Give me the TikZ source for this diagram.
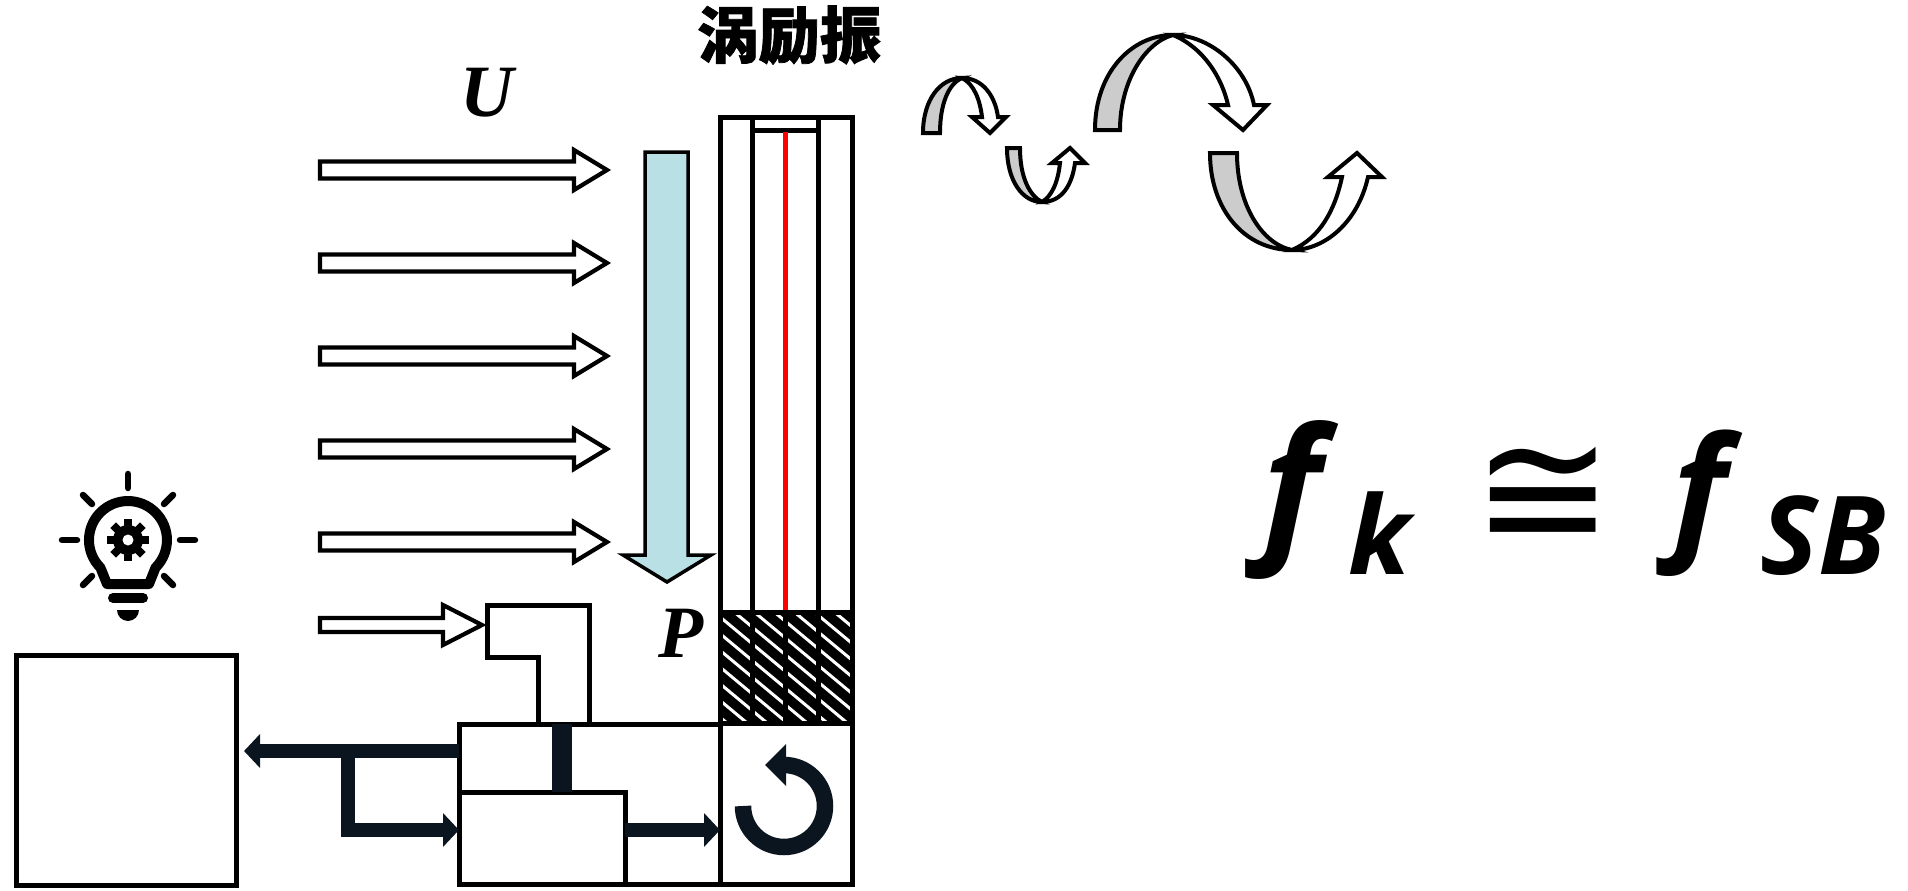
\documentclass[tikz,border=0pt]{standalone}
\usepackage{fontspec}
\newfontfamily\cjkfont{Noto Sans CJK SC}[BoldFeatures={FakeBold=1.2}]
\newfontfamily\varfont{Liberation Serif}
\newfontfamily\eqfont{Open Sans}
\newfontfamily\opfont{DejaVu Sans}
\usetikzlibrary{arrows.meta}
\definecolor{ribbon}{RGB}{204,204,204}
\definecolor{jet}{RGB}{185,224,228}
\definecolor{navy}{RGB}{11,21,31}

\begin{document}
\begin{tikzpicture}[
    x=0.1mm, y=-0.1mm,
    frame/.style={draw, line width=0.5mm},
    box/.style={draw, line width=0.5mm, inner sep=0pt, outer sep=0pt},
    hollow/.style={draw, fill=white, line width=0.42mm, line join=miter},
    back/.style={draw, fill=ribbon, line width=0.4mm},
    front/.style={draw, fill=white, line width=0.4mm, line join=miter},
    flow/.style={navy, line width=1.45mm, -{Triangle[length=1.6mm, width=3.3mm]}},
    var/.style={font=\varfont\bfseries\itshape\fontsize{21}{21}\selectfont, inner sep=0pt, anchor=base},
    eqbig/.style={font=\eqfont\bfseries\itshape\fontsize{45}{45}\selectfont, inner sep=0pt, anchor=base west},
    eqsub/.style={font=\eqfont\bfseries\itshape\fontsize{31}{31}\selectfont, inner sep=0pt, anchor=base west}
]
    \useasboundingbox (0,0) rectangle (1908,891);

    % title
    \node[font=\cjkfont\bfseries\fontsize{17.5}{18}\selectfont, inner sep=0pt, anchor=base] (title) at (789,58) {涡励振};

    % wind
    \node[var] (U) at (487,116) {U};
    \foreach \yy in {170,263,356,449,542}
        \draw[hollow] (320,\yy-8.5) -- (574,\yy-8.5) -- (574,\yy-20) -- (607,\yy)
            -- (574,\yy+20) -- (574,\yy+8.5) -- (320,\yy+8.5) -- cycle;
    \draw[hollow] (320,618) -- (443,618) -- (443,605) -- (482,625) -- (443,645) -- (443,632) -- (320,632) -- cycle;

    % downward load
    \draw[fill=jet, line width=0.35mm, line join=miter] (645,152) -- (688,152) -- (688,555) -- (711,555)
        -- (667,582) -- (623,555) -- (645,555) -- cycle;
    \node[var] (P) at (681,657) {P};

    % tower
    \draw[frame] (720,117) rectangle (852,884);
    \draw[frame] (752,117) -- (752,612);
    \draw[frame] (818,117) -- (818,612);
    \draw[frame] (752,130) -- (818,130);
    \draw[red, line width=0.5mm] (785.5,132) -- (785.5,612);

    % damper cells
    \begin{scope}
        \clip (720,612) rectangle (852,723);
        \fill (720,612) rectangle (852,723);
        \foreach \s in {0,...,17}
            \draw[white, line width=0.3mm] (720,{500+16.7*\s}) -- ++(132,110);
    \end{scope}
    \draw[frame] (720,612) rectangle (852,723);
    \foreach \xx in {752,785,818}
        \draw[frame] (\xx,612) -- (\xx,723);

    % boxes
    \node[box, minimum width=22mm, minimum height=23mm] (host) at (126,770.5) {};
    \node[box, minimum width=26.1mm, minimum height=16mm] (drive) at (589.5,804) {};
    \node[box, minimum width=16.6mm, minimum height=9.2mm] (amp) at (542,838) {};
    \node[box, minimum width=13.2mm, minimum height=16.1mm] (base) at (786,803.5) {};

    % sensor head
    \draw[frame, line join=miter] (538,724) -- (538,657) -- (487,657) -- (487,605) -- (589,605) -- (589,724);
    \coordinate (stem) at (562,724);
    \draw[navy, line width=2mm] (stem) -- (stem |- amp.north);

    % signal lines
    \coordinate (tap) at (348,751);
    \draw[flow, shorten >=0.8mm] (drive.west |- tap) -- (host.east |- tap);
    \draw[flow, line join=miter] (tap) |- (amp.west |- 0,830);
    \draw[flow] (amp.east |- 0,830) -- (base.west |- 0,830);

    % turntable
    \draw[navy, line width=1.65mm] (743,806) arc[start angle=180, end angle=-90, radius=41];
    \fill[navy] (786,744) -- (786,786) -- (765,765) -- cycle;

    % lamp
    \begin{scope}[line width=0.65mm, line cap=round]
        \draw (128,474) -- (128,488);
        \draw (62,540) -- (77,540);
        \draw (180,540) -- (195,540);
        \draw (83,495) -- (92,504);
        \draw (173,495) -- (164,504);
        \draw (83,585) -- (92,576);
        \draw (173,585) -- (164,576);
    \end{scope}
    \draw[line width=1mm, line join=round] (100.4,567.6) arc[start angle=135, end angle=405, radius=39]
        -- (149,584) -- (107,584) -- cycle;
    \draw[line width=1mm, line cap=round] (113,598) -- (143,598);
    \fill (117,610) -- (139,610) arc[start angle=0, end angle=180, radius=11] -- cycle;
    \fill (128,540) circle[radius=15];
    \foreach \a in {0,45,...,315}
        \fill[rotate around={\a:(128,540)}] (124,519) rectangle (132,528);
    \fill[white] (128,540) circle[radius=5.5];

    % vortex shedding
    \filldraw[back] (923,133) .. controls (923,100) and (940,78) .. (962,78)
        .. controls (948,84) and (940,105) .. (940,133) -- cycle;
    \filldraw[front] (962,78) .. controls (982,78) and (995,95) .. (998,117) -- (1006,117) -- (990,133)
        -- (972,117) -- (982,117) .. controls (980,100) and (974,84) .. (962,78) -- cycle;

    \filldraw[back] (1007,148) .. controls (1007,180) and (1022,202) .. (1042,202)
        .. controls (1030,196) and (1020,178) .. (1020,148) -- cycle;
    \filldraw[front] (1042,202) .. controls (1062,202) and (1072,185) .. (1075,163) -- (1085,163) -- (1070,148)
        -- (1052,163) -- (1060,163) .. controls (1058,182) and (1052,196) .. (1042,202) -- cycle;

    \filldraw[back] (1095,130) .. controls (1095,72) and (1132,35) .. (1173,35)
        .. controls (1146,42) and (1120,80) .. (1120,130) -- cycle;
    \filldraw[front] (1173,35) .. controls (1208,35) and (1246,65) .. (1254,105) -- (1267,105) -- (1243,130)
        -- (1213,105) -- (1228,105) .. controls (1222,78) and (1204,48) .. (1173,35) -- cycle;

    \filldraw[back] (1210,153) .. controls (1210,210) and (1245,250) .. (1292,250)
        .. controls (1262,244) and (1237,205) .. (1237,153) -- cycle;
    \filldraw[front] (1292,250) .. controls (1325,250) and (1358,222) .. (1368,177) -- (1382,177) -- (1357,153)
        -- (1328,177) -- (1342,177) .. controls (1335,210) and (1320,238) .. (1292,250) -- cycle;

    % frequency lock-in
    \node[eqbig] (fk) at (1262,541) {f};
    \node[eqsub] (k) at (1348,574) {k};
    \node[font=\opfont\fontsize{48}{48}\selectfont, inner sep=0pt] (cong) at (1543,497) {≅};
    \node[eqbig, font=\eqfont\bfseries\itshape\fontsize{41.5}{41.5}\selectfont] (fsb) at (1672,541) {f};
    \node[eqsub] (sb) at (1760,574) {SB};
\end{tikzpicture}
\end{document}
